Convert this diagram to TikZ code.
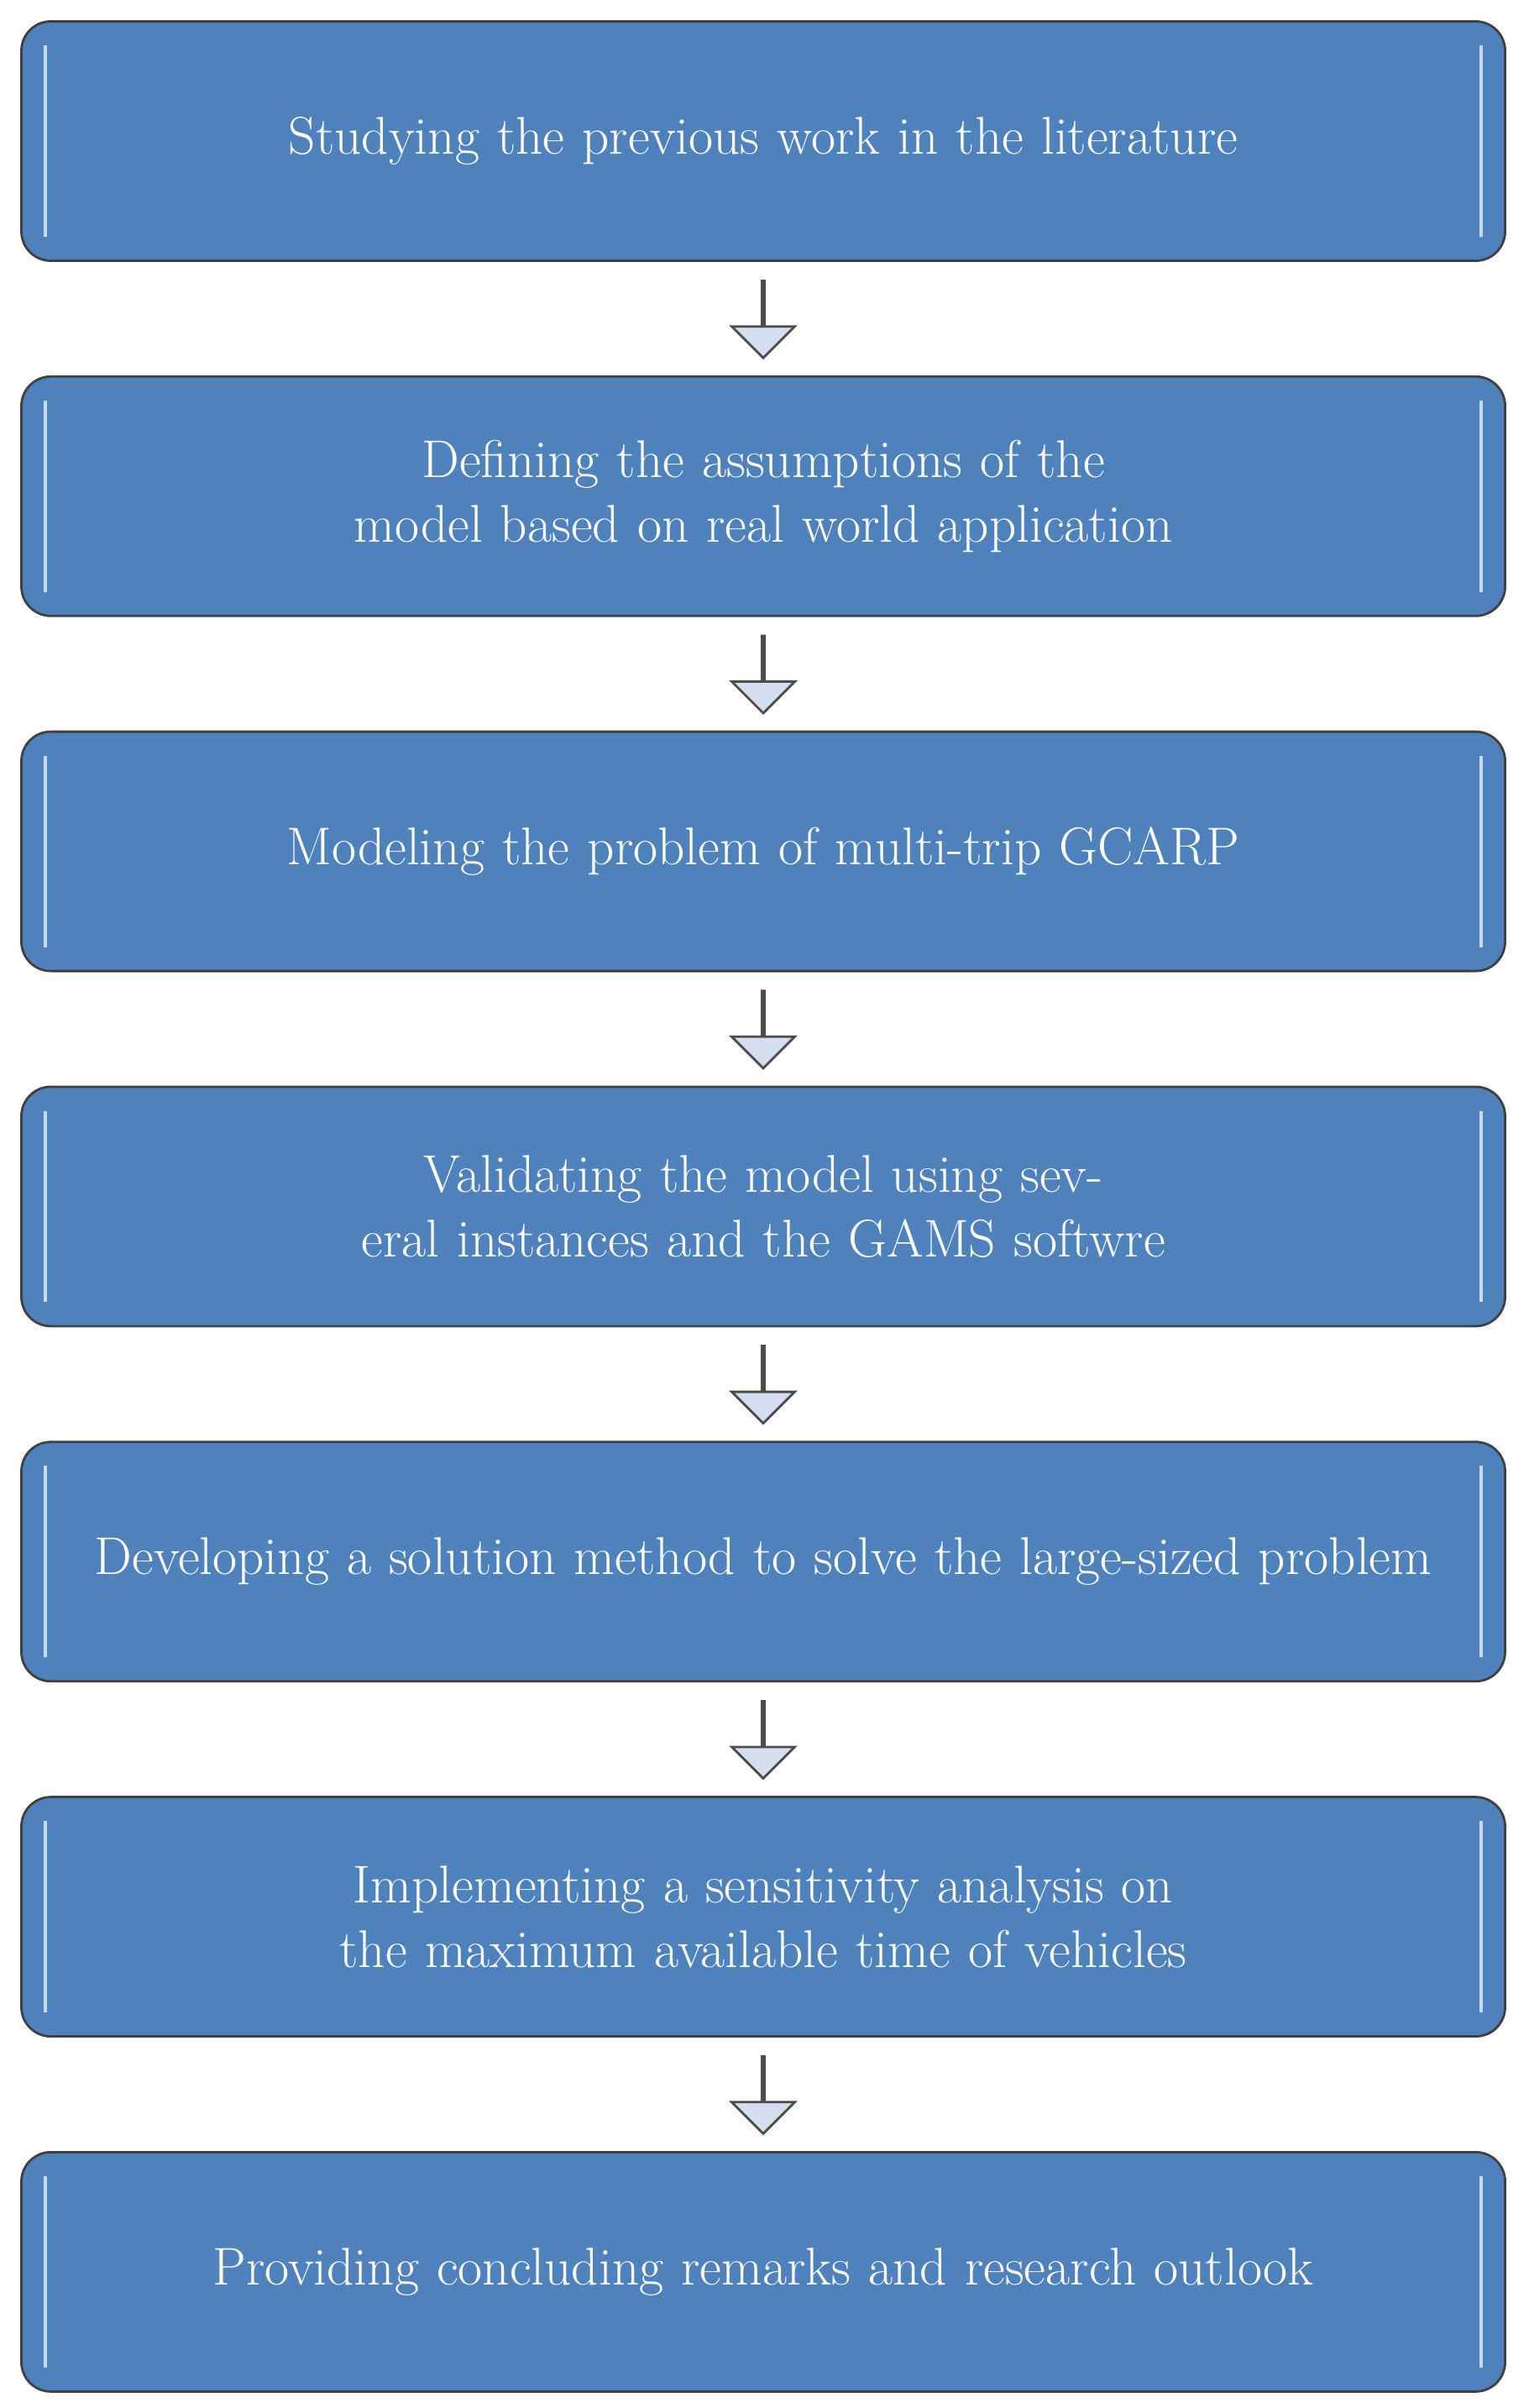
\documentclass[tikz,border=0pt]{standalone}
\usetikzlibrary{positioning,shapes.arrows,calc}
\definecolor{stepblue}{HTML}{4F81BD}
\definecolor{arrowfill}{HTML}{D4DEEE}
\tikzset{stage/.style={rectangle,rounded corners=0.35cm,draw=black!75,fill=stepblue,thick,minimum width=17.67cm,minimum height=2.85cm,text width=16.6cm,align=center,text=white,font=\fontsize{18}{22}\selectfont}}
\tikzset{down/.style={single arrow,draw=black!70,fill=arrowfill,thick,shape border rotate=270,minimum height=0.92cm,minimum width=0.75cm,single arrow head extend=0.32cm,inner sep=0pt}}
\tikzset{bevel/.style={draw=white!70!stepblue,line width=1.2pt}}

\begin{document}
\begin{tikzpicture}
\useasboundingbox (0,0) rectangle (18.2,-28.67);
\begin{scope}[node distance=1.35cm]
	\node (lit) [stage] at (9.09,-1.68) {Studying the previous work in the literature} ;
	\node (assume) [stage, below =of lit] {Defining the assumptions of the model based on real world application} ;
	\node (model) [stage, below =of assume] {Modeling the problem of multi-trip GCARP} ;
	\node (valid) [stage, below =of model] {Validating the model using several instances and the GAMS softwre} ;
	\node (solve) [stage, below =of valid] {Developing a solution method to solve the large-sized problem} ;
	\node (sens) [stage, below =of solve] {Implementing a sensitivity analysis on the maximum available time of vehicles} ;
	\node (outlook) [stage, below =of sens] {Providing concluding remarks and research outlook} ;
\end{scope}
% bevel lines and arrows between the stages
\foreach \s in {lit,assume,model,valid,solve,sens,outlook}{
	\draw [bevel] ([xshift=0.3cm,yshift=-0.3cm]\s.north west) -- ([xshift=0.3cm,yshift=0.3cm]\s.south west);
	\draw [bevel] ([xshift=-0.3cm,yshift=-0.3cm]\s.north east) -- ([xshift=-0.3cm,yshift=0.3cm]\s.south east);
}
\foreach \a/\b in {lit/assume,assume/model,model/valid,valid/solve,solve/sens,sens/outlook}
	\node (\a-\b) [down] at ($(\a.south)!0.5!(\b.north)$) {};
\end{tikzpicture}
\end{document}
